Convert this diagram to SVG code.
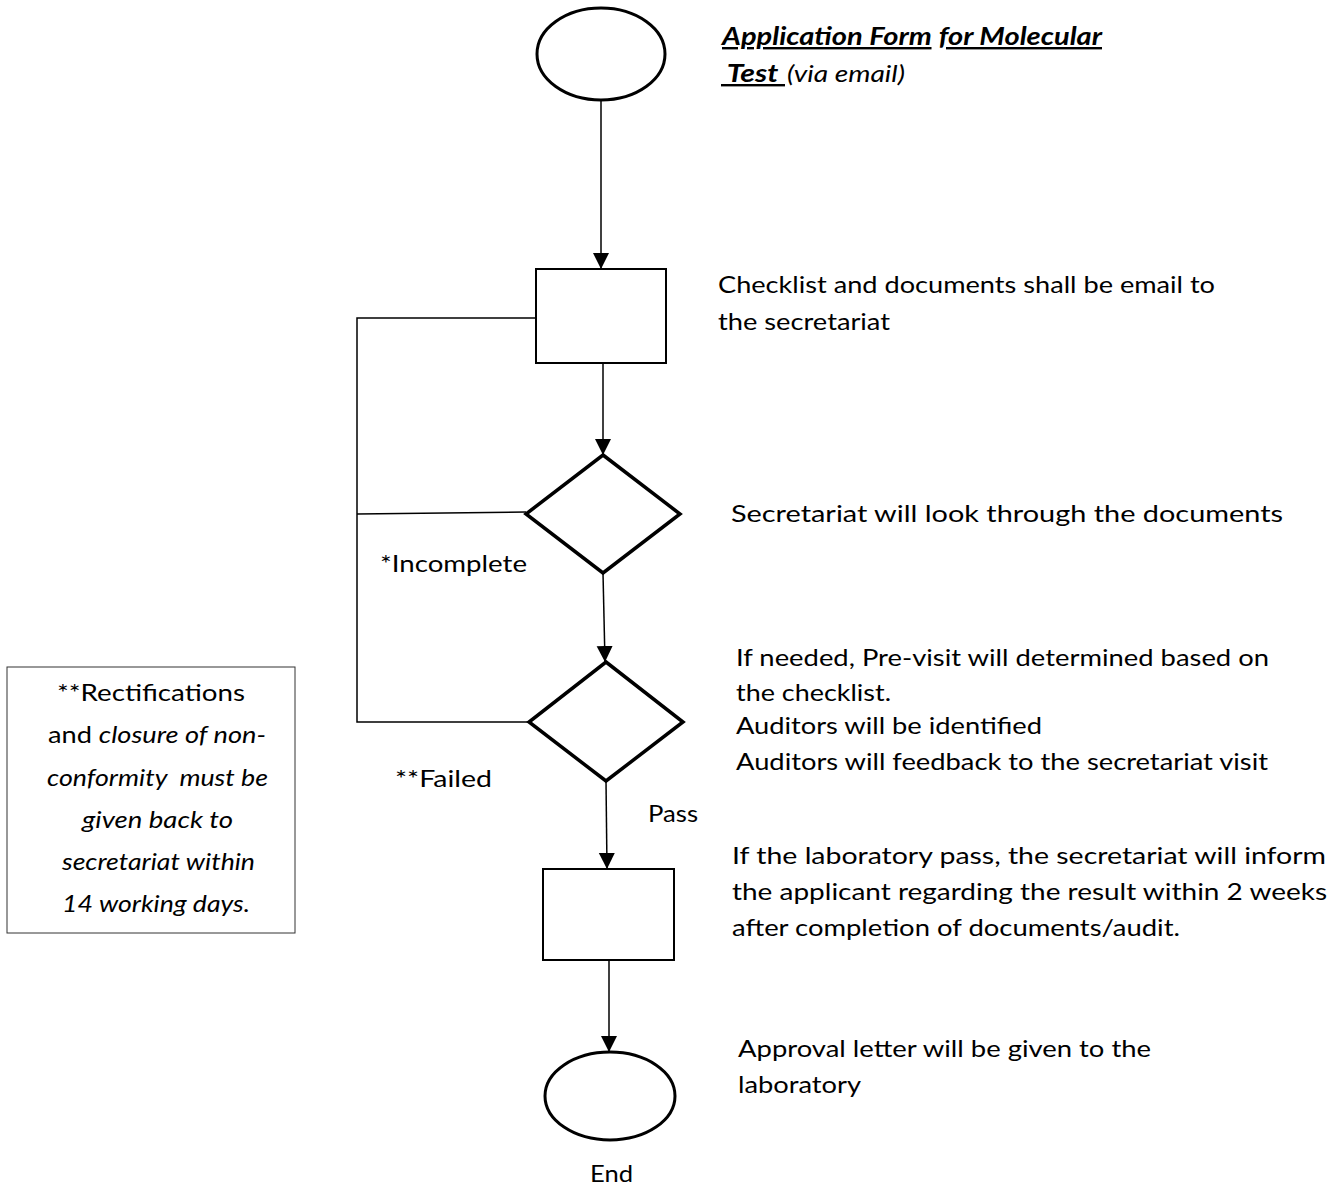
<svg xmlns="http://www.w3.org/2000/svg" width="1335" height="1191" viewBox="0 0 1335 1191">
<style>
  text { font-family: Lato, "Open Sans", "Liberation Sans", sans-serif; font-size: 24px; fill: #000; }
  .term { fill: #fff; stroke: #000; stroke-width: 3; }
  .proc { fill: #fff; stroke: #000; stroke-width: 2; }
  .dec { fill: #fff; stroke: #000; stroke-width: 3.5; stroke-linejoin: miter; }
  .conn { fill: none; stroke: #000; stroke-width: 1.5; }
  .note { fill: #fff; stroke: #333; stroke-width: 1; }
  .bi { font-weight: bold; font-style: italic; text-decoration: underline; }
  .it { font-style: italic; }
</style>
<defs>
  <marker id="arrow" markerUnits="userSpaceOnUse" markerWidth="16" markerHeight="20" refX="16" refY="8" orient="auto">
    <path d="M0,0 L16,8 L0,16 Z" fill="#000"/>
  </marker>
</defs>

<g id="connectors">
  <line class="conn" x1="601" y1="100" x2="601" y2="269" marker-end="url(#arrow)"/>
  <line class="conn" x1="603" y1="363" x2="603" y2="455" marker-end="url(#arrow)"/>
  <line class="conn" x1="603" y1="573" x2="605" y2="662" marker-end="url(#arrow)"/>
  <line class="conn" x1="606" y1="781" x2="607" y2="869" marker-end="url(#arrow)"/>
  <line class="conn" x1="609" y1="960" x2="609" y2="1052" marker-end="url(#arrow)"/>
  <polyline class="conn" points="536,318 357,318 357,722 529,722"/>
  <line class="conn" x1="357" y1="514" x2="526" y2="512"/>
</g>

<g id="start">
  <ellipse class="term" cx="601" cy="54" rx="64" ry="46"/>
</g>
<g id="step-checklist">
  <rect class="proc" x="536" y="269" width="130" height="94"/>
</g>
<g id="decision-documents">
  <polygon class="dec" points="603,455 680,514 603,573 526,514"/>
</g>
<g id="decision-audit">
  <polygon class="dec" points="606,662 683,722 606,781 529,722"/>
</g>
<g id="step-inform">
  <rect class="proc" x="543" y="869" width="131" height="91"/>
</g>
<g id="end">
  <ellipse class="term" cx="610" cy="1096" rx="65" ry="44"/>
  <text x="590" y="1182" textLength="43" lengthAdjust="spacingAndGlyphs">End</text>
</g>

<g id="labels">
  <text x="722" y="45" textLength="380" lengthAdjust="spacingAndGlyphs"><tspan class="bi">Application Form</tspan><tspan class="bi" dx="6">for Molecular</tspan></text>
  <text class="bi" x="721" y="82" textLength="64" lengthAdjust="spacingAndGlyphs" xml:space="preserve"> Test </text>
  <text class="it" x="787" y="82" textLength="118" lengthAdjust="spacingAndGlyphs">(via email)</text>

  <text x="718" y="293" textLength="497" lengthAdjust="spacingAndGlyphs">Checklist and documents shall be email to</text>
  <text x="718" y="330" textLength="172" lengthAdjust="spacingAndGlyphs">the secretariat</text>

  <text x="731" y="522" textLength="552" lengthAdjust="spacingAndGlyphs">Secretariat will look through the documents</text>

  <text x="736" y="666" textLength="533" lengthAdjust="spacingAndGlyphs">If needed, Pre-visit will determined based on</text>
  <text x="736" y="701" textLength="155" lengthAdjust="spacingAndGlyphs">the checklist.</text>
  <text x="736" y="734" textLength="306" lengthAdjust="spacingAndGlyphs">Auditors will be identified</text>
  <text x="736" y="770" textLength="532" lengthAdjust="spacingAndGlyphs">Auditors will feedback to the secretariat visit</text>

  <text x="732" y="864" textLength="594" lengthAdjust="spacingAndGlyphs">If the laboratory pass, the secretariat will inform</text>
  <text x="732" y="900" textLength="595" lengthAdjust="spacingAndGlyphs">the applicant regarding the result within 2 weeks</text>
  <text x="732" y="936" textLength="448" lengthAdjust="spacingAndGlyphs">after completion of documents/audit.</text>

  <text x="738" y="1057" textLength="413" lengthAdjust="spacingAndGlyphs">Approval letter will be given to the</text>
  <text x="738" y="1093" textLength="123" lengthAdjust="spacingAndGlyphs">laboratory</text>

  <text x="380" y="572" textLength="147" lengthAdjust="spacingAndGlyphs">*Incomplete</text>
  <text x="395" y="787" textLength="97" lengthAdjust="spacingAndGlyphs">**Failed</text>
  <text x="648" y="822" textLength="50" lengthAdjust="spacingAndGlyphs">Pass</text>
</g>

<g id="note">
  <rect class="note" x="7" y="667" width="288" height="266"/>
  <text x="57" y="701" textLength="188" lengthAdjust="spacingAndGlyphs">**Rectifications</text>
  <text x="48" y="743" textLength="218" lengthAdjust="spacingAndGlyphs">and <tspan class="it">closure of non-</tspan></text>
  <text class="it" x="47" y="786" textLength="221" lengthAdjust="spacingAndGlyphs" xml:space="preserve">conformity  must be</text>
  <text class="it" x="82" y="828" textLength="151" lengthAdjust="spacingAndGlyphs">given back to</text>
  <text class="it" x="62" y="870" textLength="193" lengthAdjust="spacingAndGlyphs">secretariat within</text>
  <text class="it" x="62" y="912" textLength="188" lengthAdjust="spacingAndGlyphs">14 working days.</text>
</g>
</svg>
